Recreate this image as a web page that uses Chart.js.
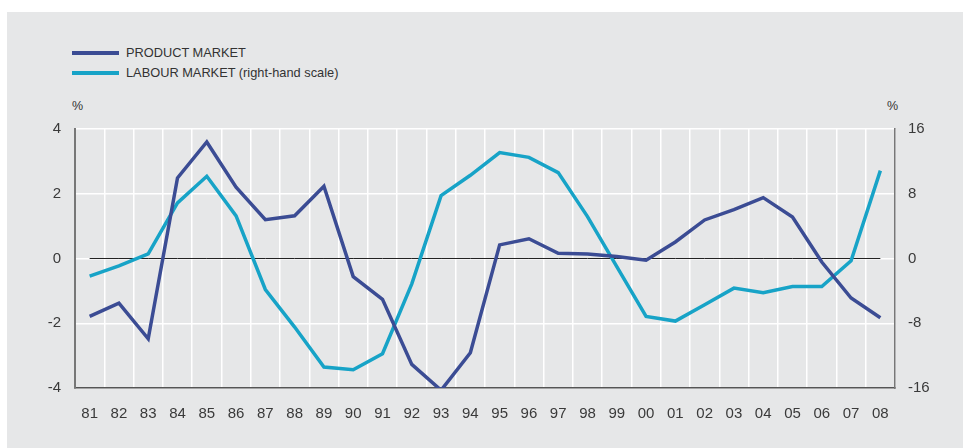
<!DOCTYPE html>
<html>
<head>
<meta charset="utf-8">
<script src="https://cdn.jsdelivr.net/npm/chart.js@4"></script>
<style>
  html, body { margin: 0; padding: 0; background: #fff; }
  body { width: 963px; height: 448px; position: relative; overflow: hidden; font-family: "Liberation Sans", Arial, sans-serif; color: #333; }
  #panel { position: absolute; left: 7px; top: 12px; width: 956px; height: 436px; background: #e6e7e8; }
  #wrap { position: absolute; left: 0; top: 0; width: 963px; height: 448px; }
  .legend { position: absolute; left: 72px; font-size: 12.8px; line-height: 14px; }
  .legend span.sw { position: absolute; left: 0; top: 5px; width: 47px; height: 4px; }
  .legend span.tx { position: absolute; left: 54px; top: 0; white-space: nowrap; }
  .pct { position: absolute; top: 99px; font-size: 12.5px; }
</style>
</head>
<body>
<div id="panel"></div>
<div class="legend" style="top:46px"><span class="sw" style="background:#3b4c94"></span><span class="tx">PRODUCT MARKET</span></div>
<div class="legend" style="top:66px"><span class="sw" style="background:#17a3c7"></span><span class="tx">LABOUR MARKET (right-hand scale)</span></div>
<div class="pct" style="left:72px">%</div>
<div class="pct" style="left:887px">%</div>
<div id="wrap"><canvas id="chart" width="963" height="448"></canvas></div>
<script>
const years = ["81","82","83","84","85","86","87","88","89","90","91","92","93","94",
  "95","96","97","98","99","00","01","02","03","04","05","06","07","08"];

// product market, left-hand scale (%)
const productMarket = [-1.79, -1.38, -2.48, 2.49, 3.60, 2.20, 1.20, 1.32, 2.23, -0.56, -1.26, -3.27, -4.07, -2.91,
  0.42, 0.61, 0.16, 0.14, 0.06, -0.05, 0.51, 1.19, 1.51, 1.88, 1.28, -0.11, -1.22, -1.83];

// labour market, right-hand scale (%)
const labourMarket = [-2.18, -0.90, 0.58, 6.87, 10.16, 5.26, -3.83, -8.47, -13.41, -13.74, -11.76, -3.13, 7.77, 10.28,
  13.08, 12.50, 10.61, 5.18, -0.99, -7.16, -7.73, -5.72, -3.66, -4.24, -3.46, -3.46, -0.29, 10.86];

const zeroLine = years.map(() => 0);

const leftTicks = [-4, -2, 0, 2, 4];
const rightTicks = [-16, -8, 0, 8, 16];

const tickFont = { family: "'Liberation Sans', Arial, sans-serif", size: 15 };

new Chart(document.getElementById("chart"), {
  type: "line",
  data: {
    labels: years,
    datasets: [
      { label: "PRODUCT MARKET", data: productMarket, yAxisID: "y", borderColor: "#3b4c94",
        borderWidth: 3.5, pointRadius: 0, tension: 0, order: 1 },
      { label: "LABOUR MARKET (right-hand scale)", data: labourMarket, yAxisID: "y2", borderColor: "#17a3c7",
        borderWidth: 3.5, pointRadius: 0, tension: 0, order: 2 },
      { label: "zero", data: zeroLine, yAxisID: "y", borderColor: "#222",
        borderWidth: 1, pointRadius: 0, order: 3 }
    ]
  },
  options: {
    responsive: false,
    animation: false,
    layout: { padding: { top: 129, left: 0, right: 0, bottom: 0 } },
    plugins: { legend: { display: false }, tooltip: { enabled: false } },
    scales: {
      x: {
        offset: true,
        grid: { offset: true, color: "#ffffff", lineWidth: 1.5, drawTicks: false },
        border: { display: true, color: "#555", width: 1.5 },
        ticks: { color: "#3a3a3a", font: tickFont, padding: 17, maxRotation: 0, autoSkip: false },
        afterFit: s => { s.height = 60; }
      },
      y: {
        position: "left",
        min: -4, max: 4,
        afterBuildTicks: s => { s.ticks = leftTicks.map(v => ({ value: v })); },
        grid: { color: "#ffffff", lineWidth: 1.5, drawTicks: false },
        border: { display: true, color: "#777", width: 2 },
        ticks: { color: "#3a3a3a", font: tickFont, padding: 14 },
        afterFit: s => { s.width = 75; }
      },
      y2: {
        position: "right",
        min: -16, max: 16,
        afterBuildTicks: s => { s.ticks = rightTicks.map(v => ({ value: v })); },
        grid: { display: false, drawTicks: false },
        border: { display: true, color: "#777", width: 1.5 },
        ticks: { color: "#3a3a3a", font: tickFont, padding: 13 },
        afterFit: s => { s.width = 68; }
      }
    }
  }
});
</script>
</body>
</html>
